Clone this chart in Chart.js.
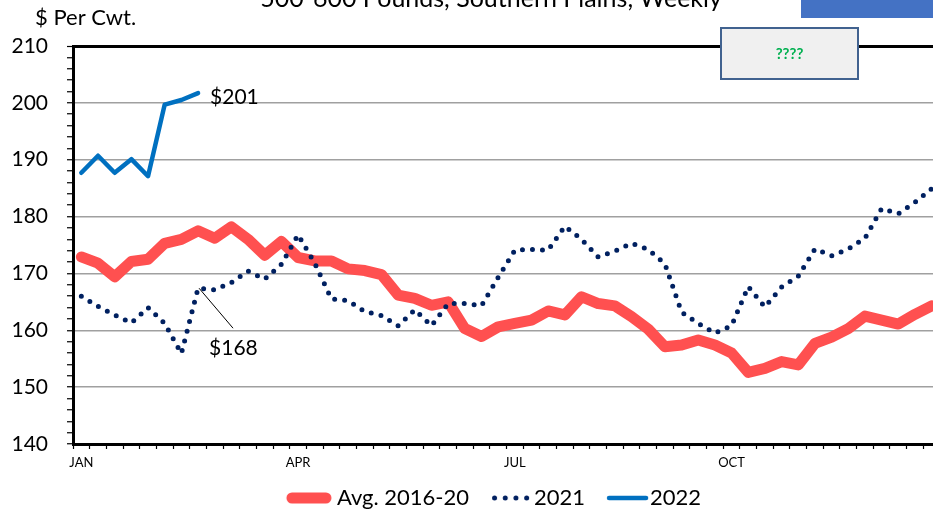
<!DOCTYPE html>
<html>
<head>
<meta charset="utf-8">
<script src="https://cdn.jsdelivr.net/npm/chart.js@4.4.1/dist/chart.umd.min.js"></script>
<style>
  html, body { margin: 0; padding: 0; background: #fff; overflow: hidden; }
  #wrap { position: relative; width: 983px; height: 519px; }
</style>
</head>
<body>
<div id="wrap"><canvas id="priceChart" width="983" height="519"></canvas></div>
<script>
// =============================
// Data
// =============================
const weeks = [
  1, 2, 3, 4, 5, 6, 7, 8, 9, 10, 11, 12, 13,
  14, 15, 16, 17, 18, 19, 20, 21, 22, 23, 24, 25, 26,
  27, 28, 29, 30, 31, 32, 33, 34, 35, 36, 37, 38, 39,
  40, 41, 42, 43, 44, 45, 46, 47, 48, 49, 50, 51, 52
];
const monthLabels = ["JAN", "APR", "JUL", "OCT"];
const monthWeeks = [1, 14, 27, 40];

const avg2016_20 = [
  172.9, 171.8, 169.4, 172.1, 172.5, 175.3, 176.0, 177.5, 176.2, 178.2, 176.0, 173.2, 175.6,
  172.8, 172.2, 172.2, 170.8, 170.5, 169.8, 166.2, 165.6, 164.4, 165.0, 160.3, 158.9, 160.6,
  161.2, 161.8, 163.4, 162.7, 165.9, 164.7, 164.3, 162.4, 160.2, 157.1, 157.4, 158.3, 157.4,
  156.0, 152.6, 153.3, 154.5, 153.9, 157.7, 158.8, 160.3, 162.5, 161.8, 161.1, 162.8, 164.3
];
const prices2021 = [
  166.0, 164.2, 162.7, 161.3, 164.0, 161.2, 155.9, 167.4, 167.1, 168.4, 170.4, 169.0, 171.6,
  176.8, 171.8, 165.5, 165.2, 163.3, 162.6, 160.8, 163.6, 160.8, 164.7, 164.7, 164.3, 169.3,
  174.1, 174.2, 174.1, 178.3, 176.0, 172.9, 173.9, 175.3, 174.2, 171.7, 163.2, 161.2, 159.5,
  160.8, 167.7, 164.1, 167.6, 169.5, 174.3, 173.1, 174.3, 176.2, 181.4, 180.5, 182.5, 184.9
];
const prices2022 = [187.7, 190.7, 187.7, 190.1, 187.1, 199.7, 200.5, 201.7];

const yTicks = { min: 140, max: 210, major: 10, minor: 2 };
const callouts = ["$201", "$168"];

const RED = "#ff5050";
const NAVY = "#002060";
const BLUE = "#0070c0";

Chart.defaults.font.family = "Lato, 'Open Sans', sans-serif";
Chart.defaults.color = "#000";

// =============================
// Legend swatches (small canvases used as point styles)
// =============================
function makeSwatch(draw) {
  const c = document.createElement("canvas");
  c.width = 88;
  c.height = 14;
  const g = c.getContext("2d");
  draw(g);
  return c;
}

const redSwatch = makeSwatch(g => {
  g.strokeStyle = RED;
  g.lineWidth = 11;
  g.lineCap = "round";
  g.beginPath();
  g.moveTo(32, 7);
  g.lineTo(66, 7);
  g.stroke();
});

const navySwatch = makeSwatch(g => {
  g.fillStyle = NAVY;
  [37.5, 48.2, 58.9, 69.6].forEach(x => {
    g.beginPath();
    g.arc(x, 7, 2.5, 0, Math.PI * 2);
    g.fill();
  });
});

const blueSwatch = makeSwatch(g => {
  g.strokeStyle = BLUE;
  g.lineWidth = 4.5;
  g.lineCap = "round";
  g.beginPath();
  g.moveTo(36, 7);
  g.lineTo(73, 7);
  g.stroke();
});

// =============================
// Extra text + boxes drawn on the canvas
// =============================
const decorations = {
  id: "decorations",
  afterDatasetsDraw(chart) {
    const ctx = chart.ctx;
    ctx.save();
    ctx.fillStyle = "#000";
    ctx.font = "21px Lato";
    ctx.textBaseline = "middle";
    ctx.textAlign = "left";

    // $201 next to last 2022 point
    const m22 = chart.getDatasetMeta(2).data;
    const p22 = m22[m22.length - 1];
    ctx.fillText(callouts[0], p22.x + 12, p22.y + 4);

    // $168 with leader line from 2021 week 8
    const p21 = chart.getDatasetMeta(1).data[7];
    ctx.strokeStyle = "#000";
    ctx.lineWidth = 1;
    ctx.beginPath();
    ctx.moveTo(p21.x + 1, p21.y);
    ctx.lineTo(p21.x + 35, p21.y + 40);
    ctx.stroke();
    ctx.fillText(callouts[1], p21.x + 11, p21.y + 60);
    ctx.restore();
  },
  afterDraw(chart) {
    const ctx = chart.ctx;
    ctx.save();
    // cut-off title
    ctx.fillStyle = "#000";
    ctx.font = "25px Lato";
    ctx.textAlign = "center";
    ctx.textBaseline = "alphabetic";
    ctx.fillText("500-600 Pounds, Southern Plains, Weekly", 491, 7);

    // unit label
    ctx.font = "22px Lato";
    ctx.textAlign = "left";
    ctx.textBaseline = "middle";
    ctx.fillText("$ Per Cwt.", 35, 18);

    // blue block top right
    ctx.fillStyle = "#4472c4";
    ctx.fillRect(801, 0, 182, 18);

    // ???? box
    ctx.fillStyle = "#f0f0f0";
    ctx.fillRect(721, 28, 137, 51);
    ctx.strokeStyle = "#41628f";
    ctx.lineWidth = 2;
    ctx.strokeRect(721, 28, 137, 51);
    ctx.fillStyle = "#00b050";
    ctx.font = "bold 15px Lato";
    ctx.textAlign = "center";
    ctx.fillText("????", 789.5, 54);
    ctx.restore();
  }
};

const ctx = document.getElementById("priceChart");

new Chart(ctx, {
  type: "line",
  data: {
    labels: weeks,
    datasets: [
      {
        label: "Avg. 2016-20",
        data: avg2016_20,
        borderColor: RED,
        backgroundColor: RED,
        borderWidth: 11,
        borderCapStyle: "round",
        borderJoinStyle: "round",
        pointRadius: 0,
        pointStyle: redSwatch,
        order: 3
      },
      {
        label: "2021",
        data: prices2021,
        borderColor: NAVY,
        backgroundColor: NAVY,
        borderWidth: 5,
        borderDash: [0, 10],
        borderCapStyle: "round",
        borderJoinStyle: "round",
        pointRadius: 0,
        pointStyle: navySwatch,
        order: 2
      },
      {
        label: "2022",
        data: prices2022,
        borderColor: BLUE,
        backgroundColor: BLUE,
        borderWidth: 4.5,
        borderCapStyle: "round",
        borderJoinStyle: "round",
        pointRadius: 0,
        pointStyle: blueSwatch,
        order: 1
      }
    ]
  },
  options: {
    responsive: false,
    animation: false,
    layout: { padding: { left: 0, top: 46, right: 0, bottom: 0 } },
    plugins: {
      title: { display: false },
      tooltip: { enabled: false },
      legend: {
        position: "bottom",
        labels: {
          usePointStyle: true,
          pointStyleWidth: 44,
          padding: 10,
          font: { size: 22 },
          color: "#000",
          sort: (a, b) => a.datasetIndex - b.datasetIndex
        }
      }
    },
    scales: {
      x: {
        type: "category",
        offset: true,
        afterFit: scale => { scale.height = 33; },
        border: { color: "#000", width: 3 },
        grid: {
          offset: true,
          drawOnChartArea: false,
          tickLength: 5,
          tickColor: "#000",
          tickWidth: 1.2
        },
        ticks: {
          autoSkip: false,
          maxRotation: 0,
          padding: 6,
          font: { size: 13 },
          callback: function (value, index) {
            const k = monthWeeks.indexOf(weeks[index]);
            return k >= 0 ? monthLabels[k] : "";
          }
        }
      },
      y: {
        min: yTicks.min,
        max: yTicks.max,
        afterFit: scale => { scale.width = 73; },
        border: { color: "#000", width: 3 },
        grid: {
          color: c => {
            const v = c.tick.value;
            if (v === yTicks.max) return "#000";
            if (v === yTicks.min) return "rgba(0,0,0,0)";
            return v % yTicks.major === 0 ? "#a0a0a0" : "rgba(0,0,0,0)";
          },
          lineWidth: c => (c.tick.value === yTicks.max ? 3 : 1.5),
          tickLength: 6,
          tickColor: "#000",
          tickWidth: 1.2
        },
        ticks: {
          stepSize: yTicks.minor,
          autoSkip: false,
          padding: 19,
          font: { size: 21 },
          callback: v => (v % yTicks.major === 0 ? v : "")
        }
      },
      // empty right-hand box: keeps the plot edge at the cropped border
      yRight: {
        position: "right",
        display: true,
        afterFit: scale => { scale.width = 43; },
        border: { display: false },
        grid: { display: false },
        ticks: { display: false }
      }
    }
  },
  plugins: [decorations]
});
</script>
</body>
</html>
